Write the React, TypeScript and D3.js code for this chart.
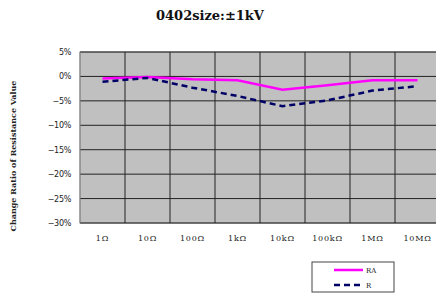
import React from "react";
import * as d3 from "d3";

const categories = ["1Ω", "10Ω", "100Ω", "1kΩ", "10kΩ", "100kΩ", "1MΩ", "10MΩ"];
const seriesRA = [-0.4, -0.1, -0.6, -0.8, -2.7, -1.8, -0.8, -0.8];
const seriesR = [-1.1, -0.3, -2.3, -4.0, -6.1, -4.9, -2.9, -2.0];
const yTicks = [5, 0, -5, -10, -15, -20, -25, -30];
const title = "0402size:±1kV";
const yLabel = "Change Ratio of  Resistance Value";

export default function App() {
  const W = 436, H = 295;
  const left = 80, right = 440, top = 52, bottom = 223;
  const x = d3.scaleBand<string>().domain(categories).range([left, right]);
  const y = d3.scaleLinear().domain([-30, 5]).range([bottom, top]);
  const line = d3
    .line<number>()
    .x((_, i) => (x(categories[i]) as number) + x.bandwidth() / 2)
    .y((d) => y(d));
  const serif = "'DejaVu Serif', serif";
  const fmt = (t: number) => (t < 0 ? "\u2212" + Math.abs(t) + "%" : t + "%");
  return (
    <svg width={W} height={H} style={{ position: "absolute", left: 0, top: 0, background: "#fff" }}>
      <text x={210} y={20} textAnchor="middle" fontFamily={serif} fontWeight="bold" fontSize={13} fill="#111">
        {title}
      </text>
      <rect x={left} y={top} width={right - left} height={bottom - top} fill="#c0c0c0" stroke="#888" strokeWidth={1} />
      {yTicks.map((t) => (
        <g key={t}>
          <line x1={left} x2={right} y1={y(t)} y2={y(t)} stroke="#222" strokeWidth={1} />
          <text x={71} y={y(t) + 3} textAnchor="end" fontFamily="'DejaVu Sans', sans-serif" fontSize={8} letterSpacing={-0.3} fill="#222">
            {fmt(t)}
          </text>
        </g>
      ))}
      {categories.slice(1).map((c) => (
        <line key={c} x1={x(c) as number} x2={x(c) as number} y1={top} y2={bottom} stroke="#222" strokeWidth={1} />
      ))}
      <line x1={left} x2={left} y1={top} y2={bottom} stroke="#888" strokeWidth={1} />
      {categories.map((c) => (
        <text key={c} x={(x(c) as number) + x.bandwidth() / 2} y={241} textAnchor="middle" fontFamily={serif} fontSize={8} letterSpacing={0.8} fill="#222">
          {c}
        </text>
      ))}
      <path d={line(seriesRA) || ""} fill="none" stroke="#ff00ff" strokeWidth={2.5} />
      <path d={line(seriesR) || ""} fill="none" stroke="#000066" strokeWidth={2.5} strokeDasharray="6,4" />
      <text
        transform={`translate(16,156) rotate(-90)`}
        textAnchor="middle"
        fontFamily={serif}
        fontWeight="bold"
        fontSize={8}
        fill="#222"
      >
        {yLabel}
      </text>
      <rect x={312} y={262} width={82} height={30} fill="#fff" stroke="#444" strokeWidth={1} />
      <line x1={334} x2={363} y1={270} y2={270} stroke="#ff00ff" strokeWidth={2.5} />
      <text x={366} y={273} fontFamily={serif} fontSize={7} fill="#222">RA</text>
      <line x1={334} x2={363} y1={285} y2={285} stroke="#000066" strokeWidth={2.5} strokeDasharray="6,4" />
      <text x={366} y={288} fontFamily={serif} fontSize={7} fill="#222">R</text>
    </svg>
  );
}
